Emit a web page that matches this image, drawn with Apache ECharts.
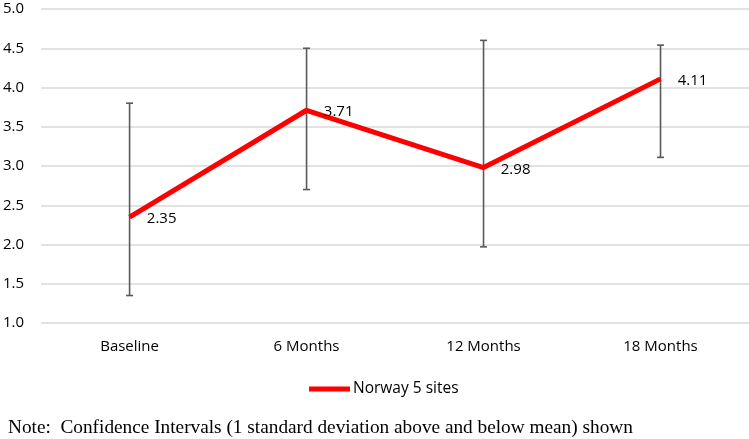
<!DOCTYPE html>
<html><head><meta charset="utf-8">
<script src="https://cdn.jsdelivr.net/npm/echarts@6/dist/echarts.min.js"></script>
<style>html,body{margin:0;padding:0;background:#fff}#c{width:749px;height:439px}</style>
</head><body><div id="c"></div>
<script>
var categories = ['Baseline', '6 Months', '12 Months', '18 Months'];
var means = [2.35, 3.71, 2.98, 4.11];
var lower = [1.35, 2.70, 1.97, 3.11];
var upper = [3.80, 4.50, 4.60, 4.54];
var seriesName = 'Norway 5 sites';
var note = 'Note:  Confidence Intervals (1 standard deviation above and below mean) shown';

var chart = echarts.init(document.getElementById('c'), null, {renderer: 'canvas'});
var errData = categories.map(function (c, i) { return [i, lower[i], upper[i]]; });
var font = '"Open Sans", "Noto Sans", sans-serif';
chart.setOption({
  animation: false,
  grid: {left: 39, right: 0, top: 9, bottom: 116},
  legend: {
    data: [{name: seriesName, icon: 'rect', itemStyle: {color: '#ff0000', opacity: 1}}],
    top: 376, left: 304,
    itemWidth: 41, itemHeight: 5, itemGap: 4,
    textStyle: {fontFamily: font, fontSize: 15.5, color: '#000', padding: [0, 0, 0, -2]}
  },
  graphic: [{
    type: 'text', left: 8, top: 418,
    style: {text: note, font: '19.3px "Liberation Serif", "Times New Roman", serif', fill: '#000'}
  }],
  xAxis: {
    type: 'category', data: categories, boundaryGap: true,
    axisLine: {show: false}, axisTick: {show: false},
    axisLabel: {fontFamily: font, fontSize: 15, color: '#000', margin: 16}
  },
  yAxis: {
    type: 'value', min: 1, max: 5, interval: 0.5,
    axisLabel: {fontFamily: font, fontSize: 15, color: '#000', margin: 17,
      formatter: function (v) { return v.toFixed(1); }},
    splitLine: {lineStyle: {color: '#d9d9d9', width: 1.5}},
    axisLine: {show: false}, axisTick: {show: false}
  },
  series: [{
    type: 'custom', name: 'err', data: errData, z: 1,
    renderItem: function (params, api) {
      var x = api.value(0);
      var lo = api.coord([x, api.value(1)]);
      var hi = api.coord([x, api.value(2)]);
      var hw = 3.5;
      var st = {stroke: '#595959', lineWidth: 1.6};
      return {type: 'group', children: [
        {type: 'line', shape: {x1: lo[0], y1: lo[1], x2: hi[0], y2: hi[1]}, style: st},
        {type: 'line', shape: {x1: lo[0]-hw, y1: lo[1], x2: lo[0]+hw, y2: lo[1]}, style: st},
        {type: 'line', shape: {x1: hi[0]-hw, y1: hi[1], x2: hi[0]+hw, y2: hi[1]}, style: st}
      ]};
    }
  }, {
    type: 'line', name: seriesName, data: means, z: 3,
    showSymbol: true, symbol: 'circle', symbolSize: 0.5,
    itemStyle: {color: '#ff0000'},
    lineStyle: {color: '#ff0000', width: 5},
    label: {show: true, position: 'right', distance: 17, fontFamily: font, fontSize: 15, color: '#000',
      formatter: function (p) { return p.value.toFixed(2); }},
    labelLayout: function (p) {
      var offs = [[0, 2], [0, 1], [0, 2.5], [0, 2]];
      return {dx: offs[p.dataIndex][0], dy: offs[p.dataIndex][1]};
    }
  }]
});
</script></body></html>
